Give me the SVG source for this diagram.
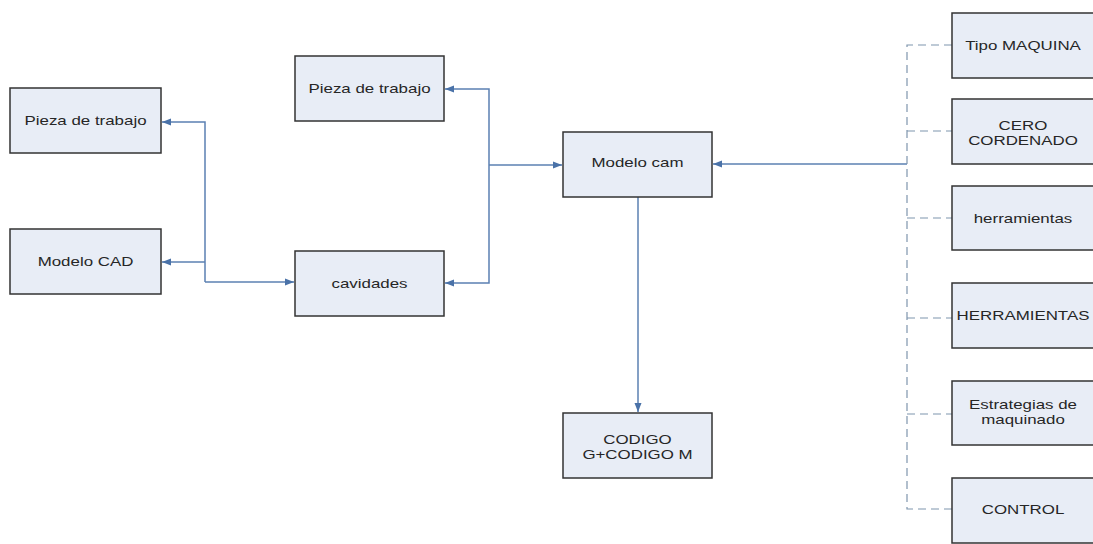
<svg xmlns="http://www.w3.org/2000/svg" width="1093" height="544" viewBox="0 0 1093 544">
<defs>
<style>
.box{fill:#e8edf6;stroke:#333;stroke-width:1.5}
.t{font-family:"Liberation Sans",Arial,sans-serif;font-size:13px;fill:#262626;text-anchor:middle}
.c{fill:none;stroke:#5b80b2;stroke-width:1.5}
.d{fill:none;stroke:#7f95ad;stroke-width:1.2;stroke-dasharray:8,5}
</style>
<marker id="a" markerWidth="10" markerHeight="8" refX="9" refY="4" orient="auto" markerUnits="userSpaceOnUse">
<path d="M0,0.5 L9,4 L0,7.5 z" fill="#4a72a8"/>
</marker>
</defs>
<rect width="1093" height="544" fill="#fff"/>
<g id="connectors">
<path class="c" d="M205,282 V122 H162" marker-end="url(#a)"/>
<path class="c" d="M205,262 H162" marker-end="url(#a)"/>
<path class="c" d="M205,282 H294" marker-end="url(#a)"/>
<path class="c" d="M489,165 V89 H445" marker-end="url(#a)"/>
<path class="c" d="M489,165 V283 H445" marker-end="url(#a)"/>
<path class="c" d="M489,165 H562" marker-end="url(#a)"/>
<path class="c" d="M907,164 H713" marker-end="url(#a)"/>
<path class="c" d="M638,197 V412" marker-end="url(#a)"/>
<path class="d" d="M952,45 H907 V509 H952"/>
<path class="d" d="M907,131 H952"/>
<path class="d" d="M907,218 H952"/>
<path class="d" d="M907,318 H952"/>
<path class="d" d="M907,414 H952"/>
</g>
<g id="n1"><rect class="box" x="10" y="88" width="151" height="65"/><text class="t" transform="translate(85.5,125) scale(1.3,1)">Pieza de trabajo</text></g>
<g id="n2"><rect class="box" x="10" y="229" width="151" height="65"/><text class="t" transform="translate(85.5,266) scale(1.3,1)">Modelo CAD</text></g>
<g id="n3"><rect class="box" x="295" y="56" width="149" height="65"/><text class="t" transform="translate(369.5,93) scale(1.3,1)">Pieza de trabajo</text></g>
<g id="n4"><rect class="box" x="295" y="251" width="149" height="65"/><text class="t" transform="translate(369.5,288) scale(1.3,1)">cavidades</text></g>
<g id="n5"><rect class="box" x="563" y="132" width="149" height="65"/><text class="t" transform="translate(637.5,167) scale(1.3,1)">Modelo cam</text></g>
<g id="n6"><rect class="box" x="563" y="413" width="149" height="65"/><text class="t" transform="translate(637.5,444) scale(1.3,1)">CODIGO</text><text class="t" transform="translate(637.5,459) scale(1.3,1)">G+CODIGO M</text></g>
<g id="n7"><rect class="box" x="952" y="13" width="145" height="65"/><text class="t" transform="translate(1023,50) scale(1.3,1)">Tipo MAQUINA</text></g>
<g id="n8"><rect class="box" x="952" y="99" width="145" height="65"/><text class="t" transform="translate(1023,130) scale(1.3,1)">CERO</text><text class="t" transform="translate(1023,145) scale(1.3,1)">CORDENADO</text></g>
<g id="n9"><rect class="box" x="952" y="186" width="145" height="64"/><text class="t" transform="translate(1023,223) scale(1.3,1)">herramientas</text></g>
<g id="n10"><rect class="box" x="952" y="283" width="145" height="65"/><text class="t" transform="translate(1023,320) scale(1.3,1)">HERRAMIENTAS</text></g>
<g id="n11"><rect class="box" x="952" y="381" width="145" height="64"/><text class="t" transform="translate(1023,409) scale(1.3,1)">Estrategias de</text><text class="t" transform="translate(1023,424) scale(1.3,1)">maquinado</text></g>
<g id="n12"><rect class="box" x="952" y="478" width="145" height="65"/><text class="t" transform="translate(1023,514) scale(1.3,1)">CONTROL</text></g>
</svg>
